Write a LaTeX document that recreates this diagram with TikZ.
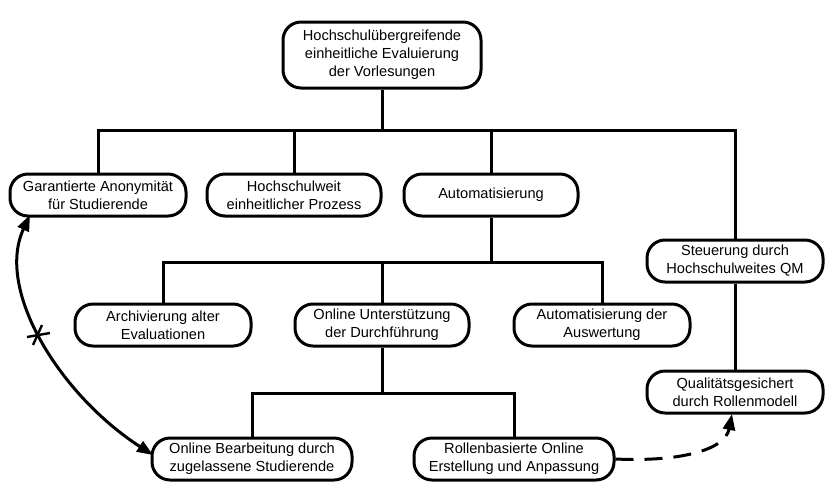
\documentclass[tikz,border=0pt]{standalone}
\usepackage{fontspec}
\setmainfont{Liberation Sans}
\usetikzlibrary{arrows.meta}
\begin{document}
\begin{tikzpicture}[x=1pt,y=-1pt,
  box/.style={draw,line width=3pt,rounded corners=18pt,fill=white,align=center,
    font=\fontsize{14.6}{18}\selectfont,inner sep=2pt,minimum height=42pt,minimum width=176pt},
  tree/.style={line width=3pt},
  link/.style={line width=3pt,-{Triangle[length=16pt,width=12pt]}}]
\useasboundingbox (0,0) rectangle (838,499);
\node[box,minimum width=198pt,minimum height=66pt] (top) at (382,55) {Hochschulübergreifende\\einheitliche Evaluierung\\der Vorlesungen};
\node[box] (garant) at (98,195) {Garantierte Anonymität\\für Studierende};
\node[box,minimum width=174pt] (hsweit) at (294,195) {Hochschulweit\\einheitlicher Prozess};
\node[box,minimum width=174pt] (auto) at (491,195) {Automatisierung};
\node[box] (steuer) at (735,261) {Steuerung durch\\Hochschulweites QM};
\node[box] (quali) at (735,392) {Qualitätsgesichert\\durch Rollenmodell};
\node[box] (archiv) at (163,325) {Archivierung alter\\Evaluationen};
\node[box,minimum width=174pt] (online) at (382,325) {Online Unterstützung\\der Durchführung};
\node[box] (auswert) at (602,325) {Automatisierung der\\Auswertung};
\node[box,minimum width=200pt] (bearb) at (252,459) {Online Bearbeitung durch\\zugelassene Studierende};
\node[box,minimum width=200pt] (rollen) at (514,459) {Rollenbasierte Online\\Erstellung und Anpassung};
% tree level 1
\coordinate (b1) at (382,130);
\draw[tree] (top.south) -- (b1);
\draw[tree] (garant.north) -- (garant.north |- b1) -- (steuer.north |- b1) -- (steuer.north);
\draw[tree] (hsweit.north) -- (hsweit.north |- b1);
\draw[tree] (auto.north) -- (auto.north |- b1);
\draw[tree] (steuer.south) -- (quali.north);
% tree level 2
\coordinate (b2) at (491,262);
\draw[tree] (auto.south) -- (b2);
\draw[tree] (archiv.north) -- (archiv.north |- b2) -- (auswert.north |- b2) -- (auswert.north);
\draw[tree] (online.north) -- (online.north |- b2);
% tree level 3
\coordinate (b3) at (382,393);
\draw[tree] (online.south) -- (b3);
\draw[tree] (bearb.north) -- (bearb.north |- b3) -- (rollen.north |- b3) -- (rollen.north);
% links
\coordinate (gs) at (30,215);
\coordinate (bw) at (153,455);
\draw[line width=3pt,{Triangle[length=16pt,width=12pt]}-{Triangle[length=16pt,width=12pt]}] (gs) .. controls (-5,290) and (60,395) .. (bw);
\coordinate (cx) at (38,335);
\draw[line width=2.4pt] ([shift={(-11,2)}]cx) -- ([shift={(12,-2)}]cx);
\draw[line width=2.4pt] ([shift={(-5,10)}]cx) -- ([shift={(4,-10)}]cx);
\coordinate (qb) at (732,414);
\draw[link,dash pattern=on 18pt off 11pt] (rollen.east) .. controls (680,462) and (725,450) .. (qb);
\end{tikzpicture}
\end{document}
